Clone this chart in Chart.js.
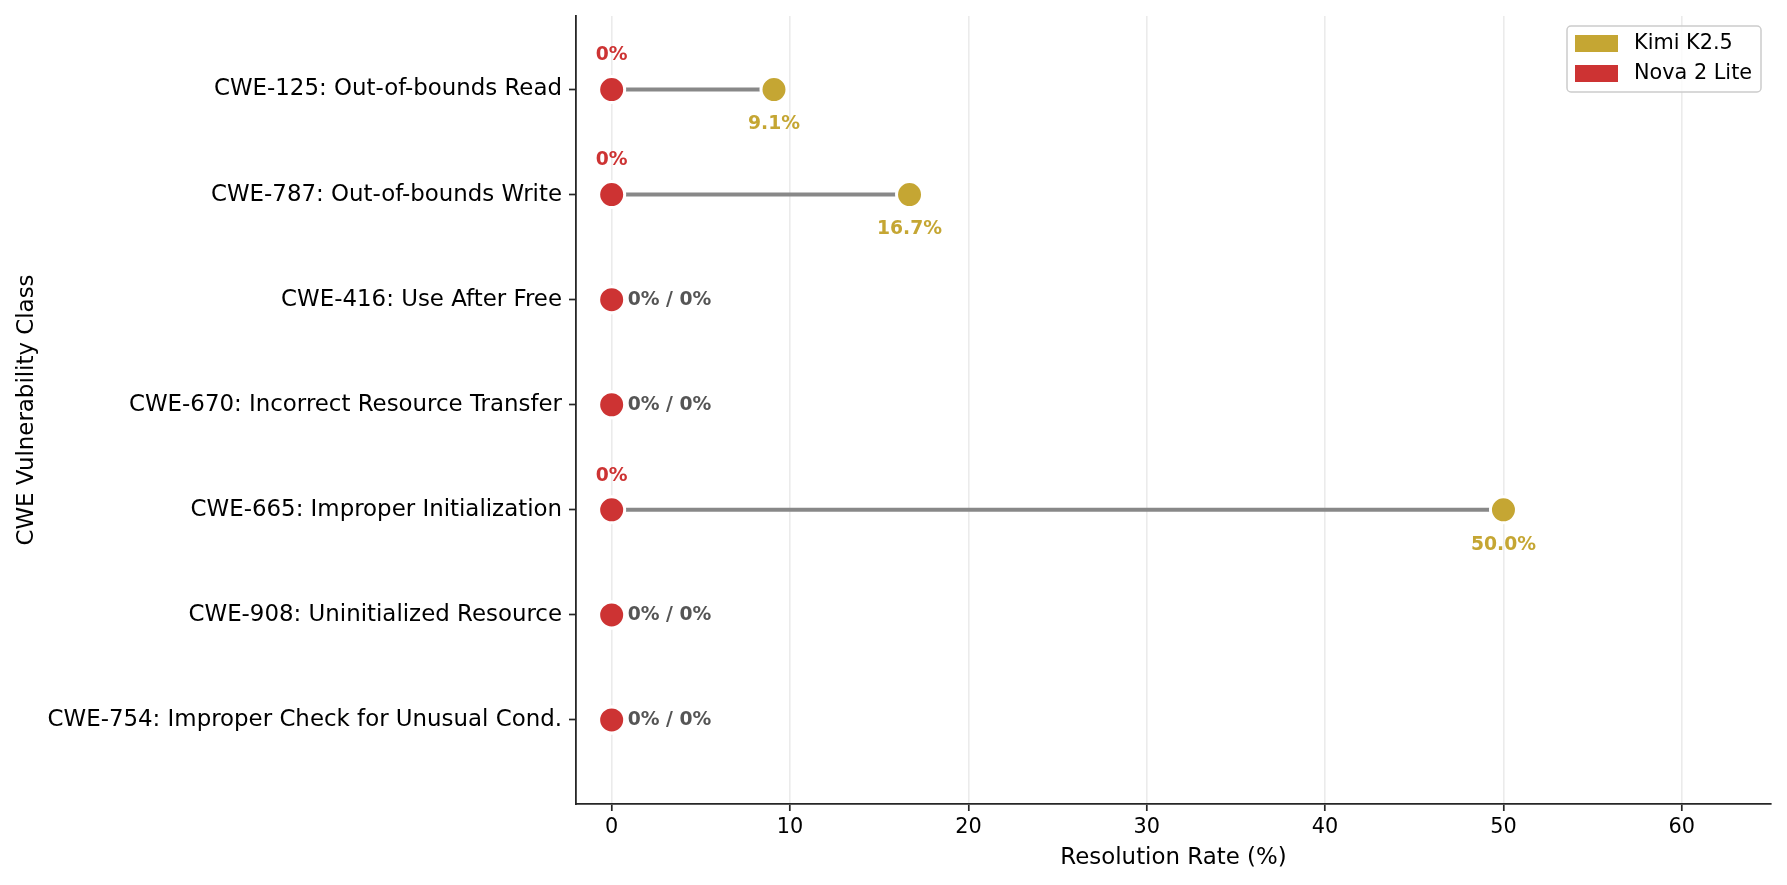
<!DOCTYPE html>
<html>
<head>
<meta charset="utf-8">
<script src="https://cdn.jsdelivr.net/npm/chart.js@4.4.1/dist/chart.umd.min.js"></script>
<style>
  html, body { margin: 0; padding: 0; background: #fff; }
  canvas { display: block; }
</style>
</head>
<body>
<canvas id="chart" width="1787" height="885"></canvas>
<script>
// data
const categories = [
  "CWE-125: Out-of-bounds Read",
  "CWE-787: Out-of-bounds Write",
  "CWE-416: Use After Free",
  "CWE-670: Incorrect Resource Transfer",
  "CWE-665: Improper Initialization",
  "CWE-908: Uninitialized Resource",
  "CWE-754: Improper Check for Unusual Cond.",
];
const kimiRates = [9.1, 16.7, 0, 0, 50.0, 0, 0];
const novaRates = [0, 0, 0, 0, 0, 0, 0];
const xTicks = [0, 10, 20, 30, 40, 50, 60];
const seriesNames = ["Kimi K2.5", "Nova 2 Lite"];

const GOLD = "#C5A633";
const RED = "#CD3333";
const FONT = "'DejaVu Sans', 'Liberation Sans', sans-serif";

const fmt = (v) => (v === 0 ? "0%" : v.toFixed(1) + "%");

// one grey connector per row, from nova to kimi
const connectors = categories.map((c, i) => ({
  type: "line",
  data: [{ x: novaRates[i], y: i }, { x: kimiRates[i], y: i }],
  borderColor: "#888888",
  borderWidth: 4,
  pointRadius: 0,
  showLine: true,
  order: 2,
}));

// value labels next to the dots
const valueLabels = {
  id: "valueLabels",
  afterDatasetsDraw(chart) {
    const { ctx, scales } = chart;
    const xs = scales.x, ys = scales.y;
    ctx.save();
    ctx.font = "bold 18.75px " + FONT;
    ctx.textBaseline = "middle";
    categories.forEach((c, i) => {
      const y = ys.getPixelForValue(i);
      const k = kimiRates[i], n = novaRates[i];
      if (k === 0 && n === 0) {
        ctx.fillStyle = "#555555";
        ctx.textAlign = "left";
        ctx.fillText("0% / 0%", xs.getPixelForValue(0) + 16, y);
        return;
      }
      ctx.textAlign = "center";
      ctx.fillStyle = RED;
      ctx.fillText(fmt(n), xs.getPixelForValue(n), y - 34);
      ctx.fillStyle = GOLD;
      ctx.fillText(fmt(k), xs.getPixelForValue(k), y + 35);
    });
    ctx.restore();
  },
};

// matplotlib style legend box in the upper right of the plot
const boxLegend = {
  id: "boxLegend",
  afterDraw(chart) {
    const { ctx, chartArea } = chart;
    const w = 194, h = 66;
    const left = chartArea.right - 10 - w, top = chartArea.top + 10;
    ctx.save();
    ctx.beginPath();
    ctx.roundRect(left, top, w, h, 4);
    ctx.fillStyle = "rgba(255,255,255,0.8)";
    ctx.fill();
    ctx.strokeStyle = "#cccccc";
    ctx.lineWidth = 1.5;
    ctx.stroke();
    ctx.font = "20.8px " + FONT;
    ctx.textBaseline = "middle";
    ctx.textAlign = "left";
    [GOLD, RED].forEach((col, j) => {
      const cy = top + 17.5 + j * 30;
      ctx.fillStyle = col;
      ctx.fillRect(left + 8, cy - 8.5, 43, 17);
      ctx.fillStyle = "#000";
      ctx.fillText(seriesNames[j], left + 67, cy);
    });
    ctx.restore();
  },
};

new Chart(document.getElementById("chart"), {
  type: "scatter",
  data: {
    datasets: [
      {
        label: seriesNames[1],
        data: novaRates.map((v, i) => ({ x: v, y: i })),
        backgroundColor: RED,
        borderColor: "#ffffff",
        borderWidth: 3,
        pointRadius: 13,
        order: 0,
      },
      {
        label: seriesNames[0],
        data: kimiRates.map((v, i) => ({ x: v, y: i })),
        backgroundColor: GOLD,
        borderColor: "#ffffff",
        borderWidth: 3,
        pointRadius: 13,
        order: 1,
      },
      ...connectors,
    ],
  },
  options: {
    responsive: false,
    animation: false,
    layout: { padding: { top: 15, right: 15, left: 0, bottom: 0 } },
    plugins: {
      legend: { display: false },
      tooltip: { enabled: false },
    },
    scales: {
      x: {
        type: "linear",
        min: -2,
        max: 65,
        afterBuildTicks: (axis) => { axis.ticks = xTicks.map((v) => ({ value: v })); },
        afterFit: (axis) => {
          axis.height = 81;
          axis.paddingLeft = 0;
          axis.paddingRight = 0;
        },
        ticks: {
          color: "#000",
          font: { family: FONT, size: 20.8 },
          padding: 4,
          maxRotation: 0,
          autoSkip: false,
        },
        grid: {
          color: "#ebebeb",
          lineWidth: 1.6,
          tickColor: "#262626",
          tickWidth: 1.7,
          tickLength: 7,
        },
        border: { color: "#262626", width: 1.8 },
        title: {
          display: true,
          text: "Resolution Rate (%)",
          color: "#000",
          font: { family: FONT, size: 22.9 },
          padding: { top: 0, bottom: 13 },
        },
      },
      y: {
        type: "linear",
        reverse: true,
        min: -0.7,
        max: 6.8,
        afterBuildTicks: (axis) => { axis.ticks = categories.map((c, i) => ({ value: i })); },
        afterFit: (axis) => {
          axis.width = 576;
          axis.paddingTop = 0;
          axis.paddingBottom = 0;
        },
        ticks: {
          color: "#000",
          font: { family: FONT, size: 22.9 },
          padding: 7,
          autoSkip: false,
          callback: (v) => categories[v],
        },
        grid: {
          drawOnChartArea: false,
          tickColor: "#262626",
          tickWidth: 1.7,
          tickLength: 7,
        },
        border: { color: "#262626", width: 1.8 },
        title: {
          display: true,
          text: "CWE Vulnerability Class",
          color: "#000",
          font: { family: FONT, size: 22.9 },
          padding: { top: 13, bottom: 0 },
        },
      },
    },
  },
  plugins: [valueLabels, boxLegend],
});
</script>
</body>
</html>
